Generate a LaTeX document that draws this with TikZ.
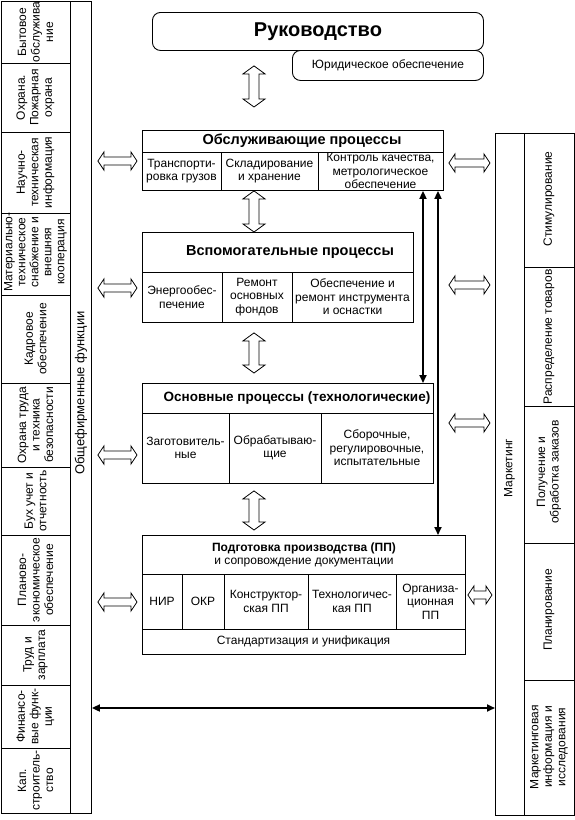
\documentclass[tikz,border=0pt]{standalone}
\usepackage{fontspec}
\setmainfont{Liberation Sans}
\usetikzlibrary{arrows.meta,calc}
\newcommand\cf{\fontsize{12}{13.5}\selectfont}
\newcommand\tf{\fontsize{14.5}{16}\selectfont\bfseries}
\newcommand\varr[4]{\draw[hollow] let \p1=(#1), \p2=(#2) in
 (\x1,\y1-#3) -- (\x1+11pt,\y1-#3-8pt) -- (\x1+5pt,\y1-#3-8pt) -- (\x1+5pt,\y2+#4+8pt) -- (\x1+11pt,\y2+#4+8pt) -- (\x1,\y2+#4)
 -- (\x1-11pt,\y2+#4+8pt) -- (\x1-5pt,\y2+#4+8pt) -- (\x1-5pt,\y1-#3-8pt) -- (\x1-11pt,\y1-#3-8pt) -- cycle;}
\newcommand\harr[4]{\draw[hollow] let \p1=(#1), \p2=(#2) in
 (\x1+#3,\y1) -- (\x1+#3+6pt,\y1+9pt) -- (\x1+#3+6pt,\y1+4pt) -- (\x2-#4-6pt,\y1+4pt) -- (\x2-#4-6pt,\y1+9pt) -- (\x2-#4,\y1)
 -- (\x2-#4-6pt,\y1-9pt) -- (\x2-#4-6pt,\y1-4pt) -- (\x1+#3+6pt,\y1-4pt) -- (\x1+#3+6pt,\y1-9pt) -- cycle;}
\begin{document}
\begin{tikzpicture}[x=1pt,y=-1pt,line width=0.9pt,
  box/.style={draw,fill=white,anchor=north west,inner sep=0pt},
  txt/.style={align=center,inner sep=0pt,font=\cf},
  rtxt/.style={txt,rotate=90},
  ttl/.style={align=center,inner sep=0pt,font=\tf},
  hollow/.style={draw,fill=white,line width=0.8pt,line join=miter},
  thinarr/.style={line width=1.8pt,{Triangle[length=8pt,width=7pt]}-{Triangle[length=8pt,width=7pt]}}]
\useasboundingbox (0,0) rectangle (575,820);
% left column
\node[box,minimum width=90pt,minimum height=812pt] (lcol) at (1,1) {};
\draw (70,1) -- (70,813);
\foreach \yy in {63,132,213,295,383,467,535,625,685,748} \draw (1,\yy) -- (70,\yy);
\node[rtxt] (l1) at (35.5,32) {Бытовое\\обслужива\\ние};
\node[rtxt] (l2) at (35.5,97.5) {Охрана.\\Пожарная\\охрана};
\node[rtxt] (l3) at (35.5,172.5) {Научно-\\техническая\\информация};
\node[rtxt,font=\fontsize{12}{13}\selectfont] (l4) at (35.5,252) {Материально-\\техническое\\снабжение и\\внешняя\\кооперация};
\node[rtxt] (l5) at (35.5,339) {Кадровое\\обеспечение};
\node[rtxt] (l6) at (35.5,425) {Охрана труда\\и техника\\безопасности};
\node[rtxt] (l7) at (35.5,501) {Бух учет и\\отчетность};
\node[rtxt] (l8) at (35.5,580) {Планово-\\экономическое\\обеспечение};
\node[rtxt] (l9) at (35.5,655) {Труд и\\зарплата};
\node[rtxt] (l10) at (35.5,716.5) {Финансо-\\вые функ-\\ции};
\node[rtxt] (l11) at (35.5,780.5) {Кап.\\строитель-\\ство};
\node[rtxt,font=\fontsize{13}{15}\selectfont] (lttl) at (81,393) {Общефирменные функции};
% right column
\node[box,minimum width=79pt,minimum height=682pt] (mkt) at (495,133) {};
\draw (524,133) -- (524,815);
\foreach \yy in {267,406,543,680} \draw (524,\yy) -- (574,\yy);
\node[rtxt] (mttl) at (509.5,468) {Маркетинг};
\node[rtxt] (r1) at (549,199) {Стимулирование};
\node[rtxt] (r2) at (549,337) {Распределение товаров};
\node[rtxt] (r3) at (549,472) {Получение и\\обработка заказов};
\node[rtxt] (r4) at (549,610) {Планирование};
\node[rtxt] (r5) at (549,747) {Маркетинговая\\информация и\\исследования};
% top
\node[box,rounded corners=8pt,minimum width=331pt,minimum height=38pt] (ruk) at (152,12) {};
\node[font=\fontsize{20}{22}\selectfont\bfseries,inner sep=0pt] (rukt) at (ruk.center) {Руководство};
\node[box,rounded corners=8pt,minimum width=191pt,minimum height=30pt] (jur) at (292,50) {};
\node[txt] (jurt) at (jur.center) {Юридическое обеспечение};
% serving processes
\node[box,minimum width=301pt,minimum height=60pt] (obsl) at (142,130) {};
\draw (142,152) -- (443,152) (221,152) -- (221,190) (318,152) -- (318,190);
\node[ttl] (obslt) at (302,141) {Обслуживающие процессы};
\node[txt] (o1) at (181.5,171) {Транспорти-\\ровка грузов};
\node[txt] (o2) at (269.5,171) {Складирование\\и хранение};
\node[txt] (o3) at (380.5,171) {Контроль качества,\\метрологическое\\обеспечение};
% auxiliary
\node[box,minimum width=271pt,minimum height=90pt] (vsp) at (142,232) {};
\draw (142,272) -- (413,272) (222,272) -- (222,322) (292,272) -- (292,322);
\node[ttl] (vspt) at (290,252) {Вспомогательные процессы};
\node[txt] (v1) at (182,297) {Энергообес-\\печение};
\node[txt] (v2) at (257,297) {Ремонт\\основных\\фондов};
\node[txt] (v3) at (352.5,297) {Обеспечение и\\ремонт инструмента\\и оснастки};
% main
\node[box,minimum width=291pt,minimum height=100pt] (osn) at (142,383) {};
\draw (142,413) -- (433,413) (229,413) -- (229,483) (321,413) -- (321,483);
\node[ttl,font=\fontsize{13.5}{15}\selectfont\bfseries] (osnt) at (297,398) {Основные процессы (технологические)};
\node[txt] (s1) at (185.5,448) {Заготовитель-\\ные};
\node[txt] (s2) at (275,448) {Обрабатываю-\\щие};
\node[txt] (s3) at (377,448) {Сборочные,\\регулировочные,\\испытательные};
% preparation
\node[box,minimum width=323pt,minimum height=119pt] (podg) at (142,535) {};
\draw (142,574) -- (465,574) (142,629) -- (465,629);
\foreach \xx in {182,224,308,396} \draw (\xx,574) -- (\xx,629);
\node[txt] (podgt) at (304,555) {{\fontsize{12}{13.5}\selectfont\bfseries Подготовка производства (ПП)}\\и сопровождение документации};
\node[txt] (p1) at (162,601.5) {НИР};
\node[txt] (p2) at (203,601.5) {ОКР};
\node[txt] (p3) at (266,601.5) {Конструктор-\\ская ПП};
\node[txt] (p4) at (352,601.5) {Технологичес-\\кая ПП};
\node[txt] (p5) at (430.5,601.5) {Организа-\\ционная\\ПП};
\node[txt] (p6) at (303.5,641.5) {Стандартизация и унификация};
% hollow vertical arrows
\coordinate (cx) at (254,0);
\varr{cx |- ruk.south}{cx |- obsl.north}{15pt}{23pt}
\varr{cx |- obsl.south}{cx |- vsp.north}{0pt}{0pt}
\varr{cx |- vsp.south}{cx |- osn.north}{10pt}{10pt}
\varr{cx |- osn.south}{cx |- podg.north}{7pt}{5pt}
% hollow horizontal arrows, left
\coordinate (ya) at (0,161);
\coordinate (yb) at (0,288);
\coordinate (yc) at (0,455);
\coordinate (yd) at (0,602);
\harr{lcol.east |- ya}{obsl.west |- ya}{6pt}{5pt}
\harr{lcol.east |- yb}{vsp.west |- yb}{6pt}{5pt}
\harr{lcol.east |- yc}{osn.west |- yc}{6pt}{5pt}
\harr{lcol.east |- yd}{podg.west |- yd}{6pt}{5pt}
% hollow horizontal arrows, right
\coordinate (ye) at (0,163);
\coordinate (yf) at (0,285);
\coordinate (yg) at (0,423);
\coordinate (yh) at (0,595);
\harr{obsl.east |- ye}{mkt.west |- ye}{5pt}{5pt}
\harr{vsp.east |- yf}{mkt.west |- yf}{35pt}{5pt}
\harr{osn.east |- yg}{mkt.west |- yg}{15pt}{5pt}
\harr{podg.east |- yh}{mkt.west |- yh}{2pt}{3pt}
% thin arrows
\coordinate (xa) at (423,0);
\coordinate (xb) at (438,0);
\draw[thinarr] (xa |- obsl.south) -- (xa |- osn.north);
\draw[thinarr] (xb |- obsl.south) -- (xb |- podg.north);
\coordinate (yi) at (0,708);
\draw[thinarr] (lcol.east |- yi) -- (mkt.west |- yi);
\end{tikzpicture}
\end{document}
